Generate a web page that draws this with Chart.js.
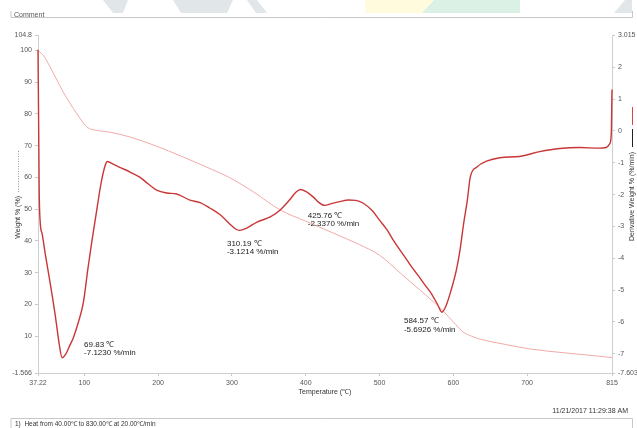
<!DOCTYPE html>
<html>
<head>
<meta charset="utf-8">
<script src="https://cdn.jsdelivr.net/npm/chart.js@4.4.1/dist/chart.umd.min.js"></script>
<style>
  html, body { margin: 0; padding: 0; background: #fff; overflow: hidden; }
  canvas { display: block; }
</style>
</head>
<body>
<canvas id="tga-chart" width="637" height="428"></canvas>
<script>
// weight curve (left axis, %)
var weightTemps  = [37.22, 45, 53.5, 62, 71.5, 80.6, 90, 98, 105, 112, 135, 162, 198, 230, 266, 297, 330, 365, 400, 440, 473, 500, 530, 555, 586, 600, 613, 625, 636, 660, 704, 750, 790, 815];
var weightValues = [100, 98.2, 94.8, 91, 86.8, 83.3, 80, 77.3, 75.6, 75.0, 74.2, 72.7, 69.8, 66.8, 63.2, 59.9, 55.3, 49.8, 46.2, 42.2, 38.8, 35.5, 29.5, 24.5, 18.0, 14.5, 11.4, 10.0, 9.1, 7.9, 6.0, 4.8, 3.9, 3.3];

// derivative weight curve (right axis, %/min)
var derivTemps  = [37.22, 38.0, 38.8, 40, 43, 47, 53.5, 60, 63, 66, 69.83, 75, 80, 85, 92, 98.6, 105, 110, 116.7, 123, 128, 131, 140, 148, 162, 175, 186, 198, 212, 225, 243, 257, 270, 285, 297, 305, 310.19, 320, 334, 352, 365, 378, 387, 393, 400, 410, 418, 425.76, 435, 446, 458, 468, 478, 490, 500, 510, 518.6, 528, 537, 546, 555, 562, 570, 578, 584.57, 590, 597, 604, 609, 614, 619, 623, 632, 645, 663, 690, 717, 744, 771, 798, 807, 812, 814, 815];
var derivValues = [2.55, 0.5, -1.8, -2.8, -3.25, -3.85, -4.75, -5.7, -6.2, -6.7, -7.123, -7.0, -6.75, -6.5, -6.0, -5.4, -4.3, -3.5, -2.5, -1.6, -1.1, -0.96, -1.05, -1.14, -1.29, -1.45, -1.65, -1.86, -1.95, -1.98, -2.17, -2.25, -2.42, -2.65, -2.92, -3.08, -3.1214, -3.05, -2.86, -2.70, -2.49, -2.17, -1.92, -1.84, -1.9, -2.07, -2.25, -2.337, -2.28, -2.22, -2.17, -2.18, -2.27, -2.5, -2.8, -3.1, -3.43, -3.75, -4.05, -4.35, -4.62, -4.85, -5.1, -5.42, -5.6926, -5.5, -5.0, -4.38, -3.75, -2.9, -2.17, -1.44, -1.13, -0.95, -0.84, -0.8, -0.65, -0.55, -0.52, -0.54, -0.52, -0.4, -0.1, 1.3];

// tick labels
var xTickLabels     = [37.22, 100, 200, 300, 400, 500, 600, 700, 815];
var leftTickLabels  = [-1.566, 10, 20, 30, 40, 50, 60, 70, 80, 90, 100, 104.8];
var rightTickLabels = [-7.603, -7, -6, -5, -4, -3, -2, -1, 0, 1, 2, 3.015];

// peak annotations
var peakTemps = [69.83, 310.19, 425.76, 584.57];
var peakRates = [-7.1230, -3.1214, -2.3370, -5.6926];

Chart.defaults.font.family = "'Liberation Sans', Arial, sans-serif";

function toPoints(xs, ys) {
  return xs.map(function (x, i) { return { x: x, y: ys[i] }; });
}

var decor = {
  id: 'decor',
  beforeDraw: function (chart) {
    var c = chart.ctx;
    c.save();
    // faint watermark at the very top
    var shapes = [
      ['#e1e6e9', [[103, 0], [128, 0], [123, 13], [113, 13]]],
      ['#e1e6e9', [[173, 0], [233, 0], [227, 13], [181, 13]]],
      ['#e1e6e9', [[247, 0], [257, 0], [267, 13], [256, 13]]],
      ['#fffbdc', [[365, 0], [434, 0], [422, 13], [365, 13]]],
      ['#dcf1e5', [[434, 0], [520, 0], [520, 13], [422, 13]]],
      ['#e1e6e9', [[625, 0], [632, 0], [632, 13], [614, 13]]]
    ];
    shapes.forEach(function (s) {
      c.fillStyle = s[0];
      c.beginPath();
      s[1].forEach(function (p, i) { i ? c.lineTo(p[0], p[1]) : c.moveTo(p[0], p[1]); });
      c.closePath();
      c.fill();
    });
    // comment box (cut off at top)
    c.save();
    c.beginPath();
    c.rect(0, 12, 637, 6);
    c.clip();
    c.fillStyle = '#555';
    c.font = "7px 'Liberation Sans', Arial, sans-serif";
    c.fillText('Comment', 14, 17);
    c.restore();
    c.strokeStyle = '#c8c8c8';
    c.lineWidth = 1;
    c.beginPath();
    c.moveTo(11, 11); c.lineTo(11, 17.5); c.lineTo(632.5, 17.5); c.lineTo(632.5, 11);
    c.stroke();
    c.restore();
  },
  afterDraw: function (chart) {
    var c = chart.ctx;
    var xs = chart.scales.x, yD = chart.scales.yD;
    c.save();
    c.fillStyle = '#222';
    c.font = "8px 'Liberation Sans', Arial, sans-serif";
    c.textBaseline = 'middle';
    var offs = [[22, -13], [-12.5, 13], [-17, 10], [-38, 9]];
    peakTemps.forEach(function (t, i) {
      var px = xs.getPixelForValue(t), py = yD.getPixelForValue(peakRates[i]);
      c.fillText(t.toFixed(2) + ' \u2103', px + offs[i][0], py + offs[i][1]);
      c.fillText(peakRates[i].toFixed(4) + ' %/min', px + offs[i][0], py + offs[i][1] + 8.5);
    });

    // x axis title
    c.font = "7px 'Liberation Sans', Arial, sans-serif";
    c.fillStyle = '#333';
    c.textAlign = 'center';
    c.fillText('Temperature (\u2103)', (chart.chartArea.left + chart.chartArea.right) / 2, 392);

    // left axis title
    c.save();
    c.translate(18, 0);
    c.rotate(-Math.PI / 2);
    c.textAlign = 'right';
    c.fillText('Weight % (%)', -196, 0);
    c.restore();
    c.strokeStyle = '#9a9a9a';
    c.lineWidth = 1;
    c.setLineDash([1, 1.5]);
    c.beginPath(); c.moveTo(18.5, 192); c.lineTo(18.5, 150); c.stroke();
    c.setLineDash([]);

    // right axis title
    c.save();
    c.translate(632, 0);
    c.rotate(-Math.PI / 2);
    c.textAlign = 'right';
    c.fillText('Derivative Weight % (%/min)', -152, 0);
    c.restore();
    c.strokeStyle = '#222';
    c.beginPath(); c.moveTo(632.5, 147); c.lineTo(632.5, 129); c.stroke();
    c.strokeStyle = '#d04848';
    c.beginPath(); c.moveTo(632.5, 125); c.lineTo(632.5, 107); c.stroke();

    // footer
    c.textAlign = 'right';
    c.fillStyle = '#333';
    c.fillText('11/21/2017 11:29:38 AM', 628, 411);
    c.strokeStyle = '#c8c8c8';
    c.beginPath();
    c.moveTo(11, 428); c.lineTo(11, 418.5); c.lineTo(632.5, 418.5); c.lineTo(632.5, 428);
    c.stroke();
    c.textAlign = 'left';
    c.font = "6.5px 'Liberation Sans', Arial, sans-serif";
    c.fillText('1)  Heat from 40.00\u2103 to 830.00\u2103 at 20.00\u2103/min', 15, 424);
    c.restore();
  }
};

var tickFont = { size: 7 };
var ctx = document.getElementById('tga-chart').getContext('2d');
var chart = new Chart(ctx, {
  type: 'line',
  data: {
    datasets: [{
      label: 'Derivative Weight %',
      data: toPoints(derivTemps, derivValues),
      yAxisID: 'yD',
      borderColor: '#c93636',
      borderWidth: 1.4,
      pointRadius: 0,
      cubicInterpolationMode: 'monotone',
      clip: false,
      order: 0
    }, {
      label: 'Weight %',
      data: toPoints(weightTemps, weightValues),
      yAxisID: 'yW',
      borderColor: '#f2a9a9',
      borderWidth: 1,
      pointRadius: 0,
      cubicInterpolationMode: 'monotone',
      clip: false,
      order: 1
    }]
  },
  options: {
    responsive: false,
    animation: false,
    devicePixelRatio: 1,
    layout: { padding: { top: 35, left: 0, right: 0, bottom: 0 } },
    plugins: { legend: { display: false }, tooltip: { enabled: false } },
    scales: {
      x: {
        type: 'linear',
        min: 37.22,
        max: 815,
        afterBuildTicks: function (s) { s.ticks = xTickLabels.map(function (v) { return { value: v }; }); },
        afterFit: function (s) { s.height = 55; },
        ticks: { font: tickFont, color: '#555', autoSkip: false, maxRotation: 0, padding: 3, callback: function (v) { return String(v); } },
        grid: { drawOnChartArea: false, tickLength: 3, color: '#c8c8c8' },
        border: { color: '#cfcfcf' }
      },
      yW: {
        type: 'linear',
        position: 'left',
        min: -1.566,
        max: 104.8,
        afterBuildTicks: function (s) { s.ticks = leftTickLabels.map(function (v) { return { value: v }; }); },
        afterFit: function (s) { s.width = 38; },
        ticks: { font: tickFont, color: '#555', autoSkip: false, padding: 3, callback: function (v) { return String(v); } },
        grid: { drawOnChartArea: false, tickLength: 3, color: '#c8c8c8' },
        border: { color: '#cfcfcf' }
      },
      yD: {
        type: 'linear',
        position: 'right',
        min: -7.603,
        max: 3.015,
        afterBuildTicks: function (s) { s.ticks = rightTickLabels.map(function (v) { return { value: v }; }); },
        afterFit: function (s) { s.width = 25; },
        ticks: { font: tickFont, color: '#555', autoSkip: false, padding: 3, callback: function (v) { return String(v); } },
        grid: { drawOnChartArea: false, tickLength: 3, color: '#c8c8c8' },
        border: { color: '#cfcfcf' }
      }
    }
  },
  plugins: [decor]
});
</script>
</body>
</html>
